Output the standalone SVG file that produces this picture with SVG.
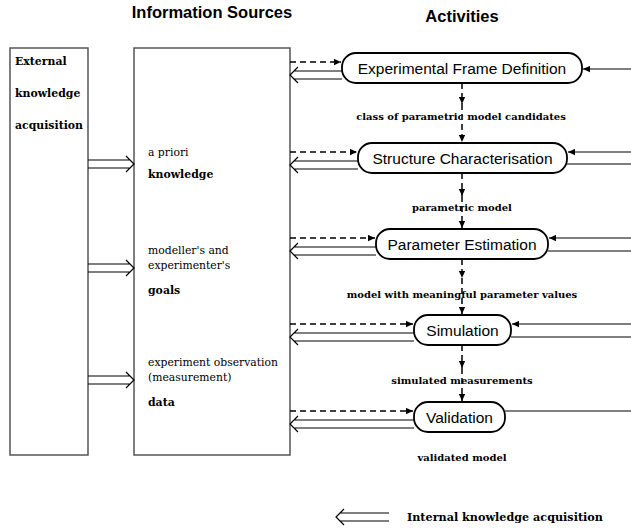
<svg xmlns="http://www.w3.org/2000/svg" width="631" height="531" viewBox="0 0 631 531">
<style>
  .box { fill: #fff; stroke: #555; stroke-width: 1.5; }
  .node rect { fill: #fff; stroke: #000; stroke-width: 1.8; }
  .node text { font-family: "Liberation Sans", Arial, sans-serif; font-size: 15.5px; fill: #000; text-anchor: middle; }
  .hdr { font-family: "Liberation Sans", Arial, sans-serif; font-size: 16.5px; font-weight: bold; text-anchor: middle; }
  .ser { font-family: "DejaVu Serif", serif; font-size: 10.8px; fill: #000; }
  .serb { font-family: "DejaVu Serif", serif; font-size: 10.9px; font-weight: bold; fill: #000; }
  .lbl { font-family: "DejaVu Serif", serif; font-size: 10px; font-weight: bold; fill: #000; text-anchor: middle; }
  .leg { font-family: "DejaVu Serif", serif; font-size: 11.2px; font-weight: bold; fill: #000; }
  .dash { fill: none; stroke: #000; stroke-width: 1.5; stroke-dasharray: 6 4; }
  .dbl { fill: none; stroke: #000; stroke-width: 1.2; }
  .rl { fill: none; stroke: #555; stroke-width: 1.3; }
</style>
<defs>
  <marker id="ah" viewBox="0 0 10 10" refX="10" refY="5" markerWidth="7" markerHeight="7" markerUnits="userSpaceOnUse" orient="auto">
    <path d="M0,0.5 L10,5 L0,9.5 z" fill="#000"/>
  </marker>
</defs>

<text class="hdr" x="212" y="18">Information Sources</text>
<text class="hdr" x="462" y="22">Activities</text>

<g id="external">
  <rect class="box" x="10" y="48" width="78" height="407"/>
  <text class="serb" x="15" y="65">External</text>
  <text class="serb" x="15" y="97">knowledge</text>
  <text class="serb" x="15" y="129">acquisition</text>
</g>

<g id="sources">
  <rect class="box" x="134" y="48" width="156" height="407"/>
  <text class="ser" x="148" y="156">a priori</text>
  <text class="serb" x="148" y="178">knowledge</text>
  <text class="ser" x="148" y="254">modeller's and</text>
  <text class="ser" x="148" y="269">experimenter's</text>
  <text class="serb" x="148" y="294">goals</text>
  <text class="ser" x="148" y="366">experiment observation</text>
  <text class="ser" x="148" y="381">(measurement)</text>
  <text class="serb" x="148" y="406">data</text>
</g>

<g id="n1" class="node">
  <rect x="342" y="53" width="240" height="30" rx="14" ry="14"/>
  <text x="462" y="74">Experimental Frame Definition</text>
</g>
<g id="n2" class="node">
  <rect x="358" y="143" width="209" height="30" rx="14" ry="14"/>
  <text x="462.5" y="164">Structure Characterisation</text>
</g>
<g id="n3" class="node">
  <rect x="376" y="229" width="172" height="30" rx="14" ry="14"/>
  <text x="462" y="250">Parameter Estimation</text>
</g>
<g id="n4" class="node">
  <rect x="414" y="315" width="97" height="30" rx="14" ry="14"/>
  <text x="462.5" y="336">Simulation</text>
</g>
<g id="n5" class="node">
  <rect x="414" y="402" width="91" height="30" rx="14" ry="14"/>
  <text x="459.5" y="423">Validation</text>
</g>

<g id="connectors">
  <!-- external to sources -->
  <path class="dbl" d="M88 160 H130 M88 168 H130 M126 156 L134 164 L126 172"/>
  <path class="dbl" d="M88 264 H130 M88 272 H130 M126 260 L134 268 L126 276"/>
  <path class="dbl" d="M88 376 H130 M88 384 H130 M126 372 L134 380 L126 388"/>

  <!-- dashed from sources to activities -->
  <line class="dash" x1="290" y1="62" x2="341" y2="62" marker-end="url(#ah)"/>
  <line class="dash" x1="290" y1="152" x2="357" y2="152" marker-end="url(#ah)"/>
  <line class="dash" x1="290" y1="238" x2="375" y2="238" marker-end="url(#ah)"/>
  <line class="dash" x1="290" y1="324" x2="413" y2="324" marker-end="url(#ah)"/>
  <line class="dash" x1="290" y1="411" x2="413" y2="411" marker-end="url(#ah)"/>

  <!-- internal knowledge acquisition (double arrows back) -->
  <path class="dbl" d="M342 71 H294 M342 79 H294 M298 67 L290 75 L298 83"/>
  <path class="dbl" d="M358 161 H294 M358 169 H294 M298 157 L290 165 L298 173"/>
  <path class="dbl" d="M376 247 H294 M376 255 H294 M298 243 L290 251 L298 259"/>
  <path class="dbl" d="M414 333 H294 M414 341 H294 M298 329 L290 337 L298 345"/>
  <path class="dbl" d="M414 420 H294 M414 428 H294 M298 416 L290 424 L298 432"/>

  <!-- vertical flow -->
  <line class="dash" x1="462" y1="83" x2="462" y2="104" marker-end="url(#ah)"/>
  <line class="dash" x1="462" y1="104" x2="462" y2="142" marker-end="url(#ah)"/>
  <line class="dash" x1="462" y1="173" x2="462" y2="196" marker-end="url(#ah)"/>
  <line class="dash" x1="462" y1="196" x2="462" y2="228" marker-end="url(#ah)"/>
  <line class="dash" x1="462" y1="259" x2="462" y2="278" marker-end="url(#ah)"/>
  <line class="dash" x1="462" y1="278" x2="462" y2="314" marker-end="url(#ah)"/>
  <line class="dash" x1="462" y1="345" x2="462" y2="368" marker-end="url(#ah)"/>
  <line class="dash" x1="462" y1="368" x2="462" y2="401" marker-end="url(#ah)"/>

  <!-- right side lines -->
  <line class="rl" x1="631" y1="69" x2="583" y2="69" marker-end="url(#ah)"/>
  <line class="rl" x1="631" y1="152" x2="568" y2="152" marker-end="url(#ah)"/>
  <line class="rl" x1="567" y1="164" x2="631" y2="164"/>
  <line class="rl" x1="631" y1="238" x2="549" y2="238" marker-end="url(#ah)"/>
  <line class="rl" x1="548" y1="251" x2="631" y2="251"/>
  <line class="rl" x1="631" y1="324" x2="512" y2="324" marker-end="url(#ah)"/>
  <line class="rl" x1="511" y1="337" x2="631" y2="337"/>
  <line class="rl" x1="505" y1="411" x2="631" y2="411"/>

  <!-- legend arrow -->
  <path class="dbl" d="M389 513 H340 M389 521 H340 M344 509 L336 517 L344 525"/>
</g>

<text class="lbl" x="461" y="120">class of parametric model candidates</text>
<text class="lbl" x="462" y="211">parametric model</text>
<text class="lbl" x="462" y="298">model with meaningful parameter values</text>
<text class="lbl" x="462" y="384">simulated measurements</text>
<text class="lbl" x="462" y="461">validated model</text>
<text class="leg" x="407" y="521">Internal knowledge acquisition</text>
</svg>
